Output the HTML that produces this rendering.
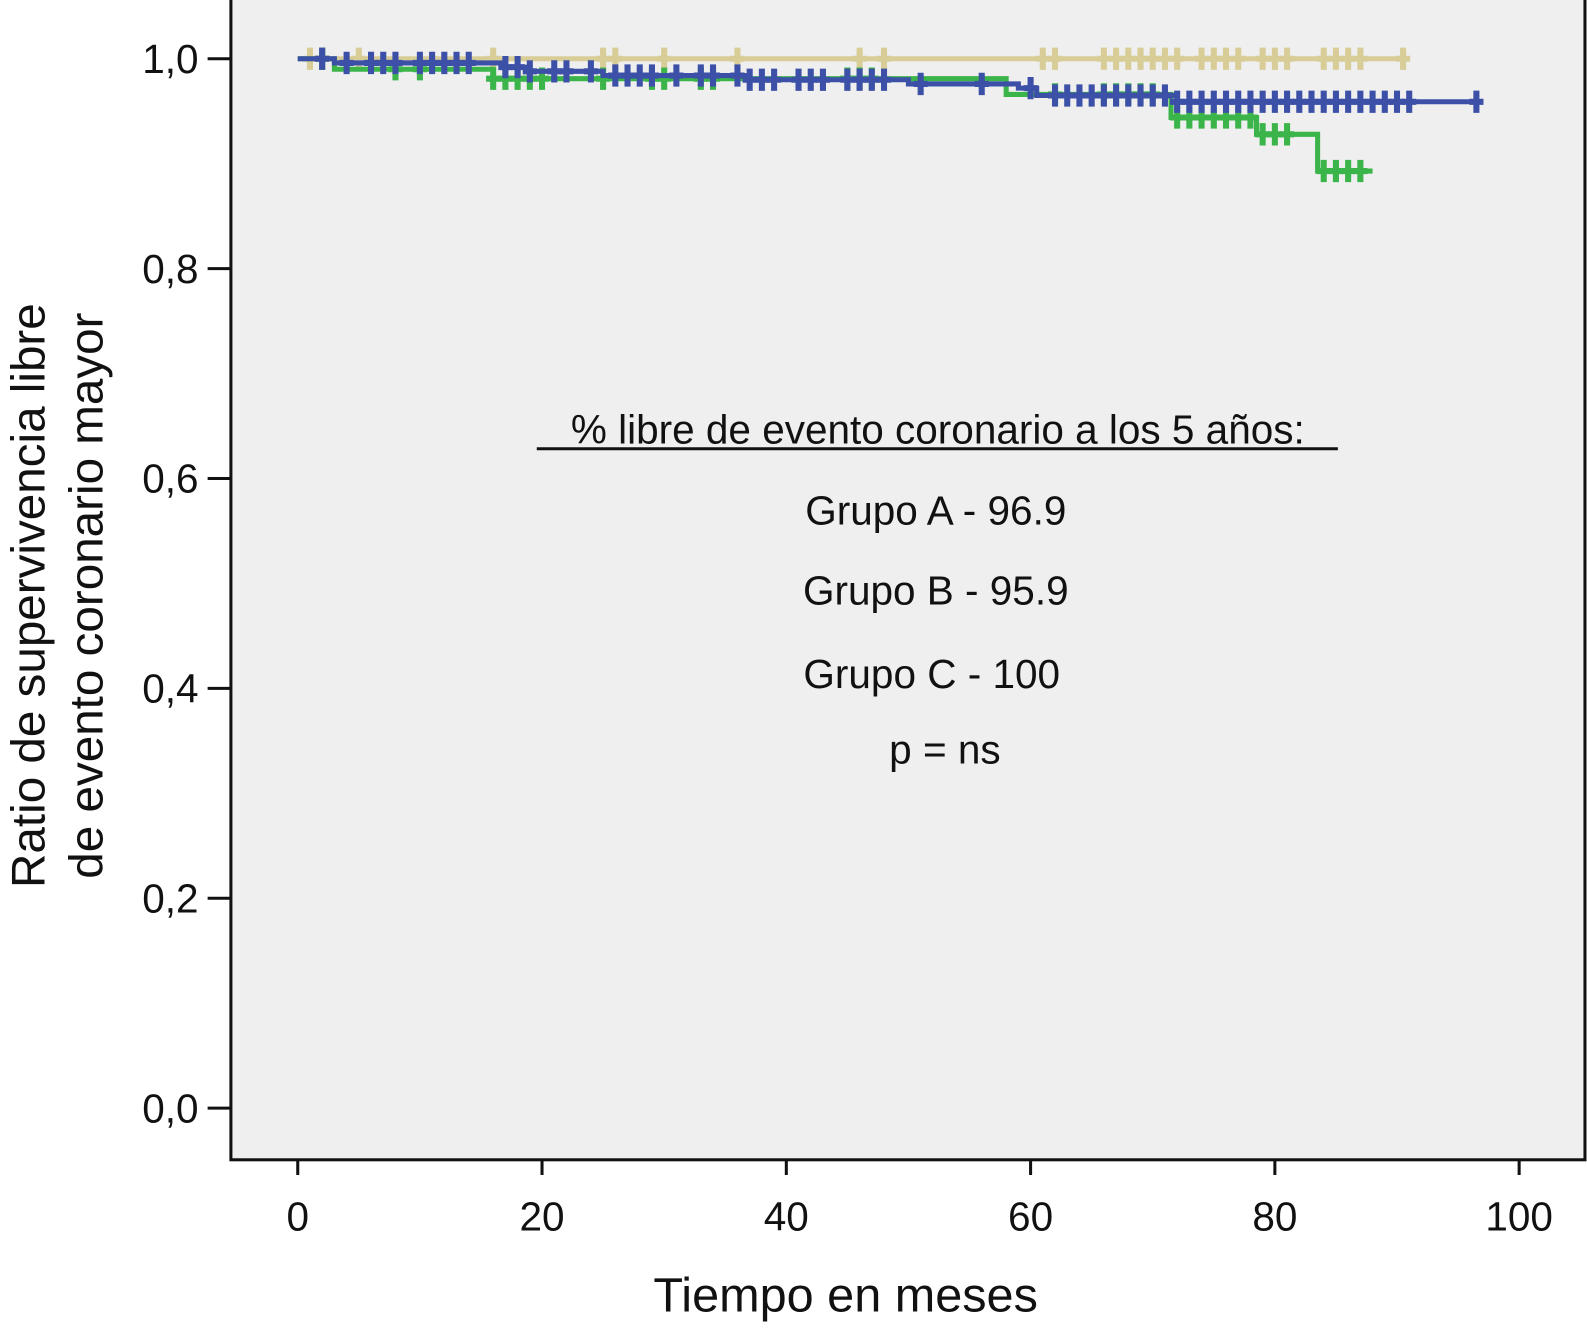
<!DOCTYPE html>
<html><head><meta charset="utf-8"><style>
body{margin:0;background:#fff;overflow:hidden;}
svg text{font-family:"Liberation Sans",sans-serif;fill:#111;}
</style></head><body>
<svg width="1587" height="1333" viewBox="0 0 1567 1316" preserveAspectRatio="none">
<rect x="228" y="-2" width="1337" height="1147" fill="#efefef" stroke="#111" stroke-width="3"/>
<g id="axes"></g>
<g id="series"></g>
<g font-size="40" text-anchor="middle">
<text x="926" y="438">% libre de evento coronario a los 5 años:</text>
<line x1="530" y1="443" x2="1321" y2="443" stroke="#111" stroke-width="3"/>
<text x="924" y="518">Grupo A - 96.9</text>
<text x="924" y="597">Grupo B - 95.9</text>
<text x="920" y="679">Grupo C - 100</text>
<text x="933" y="754">p = ns</text>
</g>
<text x="835" y="1295" font-size="48" text-anchor="middle">Tiempo en meses</text>
<g transform="translate(0,588) rotate(-90)">
<text x="0" y="44" font-size="47" text-anchor="middle">Ratio de supervivencia libre</text>
<text x="0" y="101" font-size="47" text-anchor="middle">de evento coronario mayor</text>
</g>
</svg>
<script>
const xTicks=[0,20,40,60,80,100];
const yTicks=[0,0.2,0.4,0.6,0.8,1.0];
const yTickLabels=["0,0","0,2","0,4","0,6","0,8","1,0"];
const tanTimes=[0,90.5];
const tanSurv=[1.0,1.0];
const tanCensor=[1,2,5,16,25,26,30,36,46,48,61,62,66,67,68,69,70,71,72,74,75,76,77,79,80,81,84,85,86,87,90.5];
const blueTimes=[2,3,17,19,25,37,50,59,60.5,72,96.5];
const blueSurv=[1.0,0.996,0.992,0.988,0.984,0.98,0.976,0.972,0.965,0.959,0.959];
const blueCensor=[2,4,6,7,8,10,11,12,13,14,17,18,19,21,22,24,26,27,28,29,31,33,34,36,37,38,39,41,42,43,45,46,47,48,51,56,60,62,63,64,65,66,67,68,69,70,71,72,73,74,75,76,77,78,79,80,81,82,83,84,85,86,87,88,89,90,91,96.5];
const greenTimes=[1,3,16,58,71.5,78.5,83.5,88];
const greenSurv=[1.0,0.99,0.981,0.966,0.944,0.928,0.893,0.893];
const greenCensor=[2,8,10,16,17,18,19,20,25,29,30,33,34,45,46,47,62,66,67,68,69,70,72,73,74,75,76,77,78,79,80,81,84,85,86,87];
const X=v=>294+v*12.06, Y=v=>1094-v*1036;
const NS="http://www.w3.org/2000/svg";
function mk(tag,attrs,parent){const e=document.createElementNS(NS,tag);for(const k in attrs)e.setAttribute(k,attrs[k]);parent.appendChild(e);return e;}
const axes=document.getElementById('axes');
xTicks.forEach(t=>{
 const l=mk('line',{x1:X(t),x2:X(t),y1:1145,y2:1160,stroke:'#111','stroke-width':3},axes);
 
 
 const tx=mk('text',{x:X(t),y:1215,'font-size':40,'text-anchor':'middle'},axes);tx.textContent=t;
 
 
});
yTicks.forEach((t,i)=>{
 const l=mk('line',{x1:205,x2:228,y1:Y(t),y2:Y(t),stroke:'#111','stroke-width':3},axes);
 
 
 const tx=mk('text',{x:196,y:Y(t)+14,'font-size':40,'text-anchor':'end'},axes);tx.textContent=yTickLabels[i];
 
 
});
const ser=document.getElementById('series');
function stepVal(times,surv,t){let v=surv[0];for(let i=0;i<times.length;i++){if(t>=times[i])v=surv[i];}return v;}
function draw(times,surv,cens,color,name){
 const g=mk('g',{},ser);
 
 
 let d='M'+X(0)+' '+Y(surv[0]);
 for(let i=0;i<times.length;i++){d+=' H'+X(times[i])+' V'+Y(surv[i]);}
 const p=mk('path',{d:d,fill:'none',stroke:color,'stroke-width':5},g);
 
 
 cens.forEach(c=>{
  const y=Y(stepVal(times,surv,c));
  const m=mk('path',{d:'M'+X(c)+' '+(y-11)+' V'+(y+11)+' M'+(X(c)-7)+' '+y+' H'+(X(c)+7),stroke:color,'stroke-width':6,fill:'none'},g);
  
  
 });
}
draw(tanTimes,tanSurv,tanCensor,'#d9cd97','series-group-c');
draw(greenTimes,greenSurv,greenCensor,'#3bb44a','series-group-b');
draw(blueTimes,blueSurv,blueCensor,'#3d50a8','series-group-a');
</script>
</body></html>
